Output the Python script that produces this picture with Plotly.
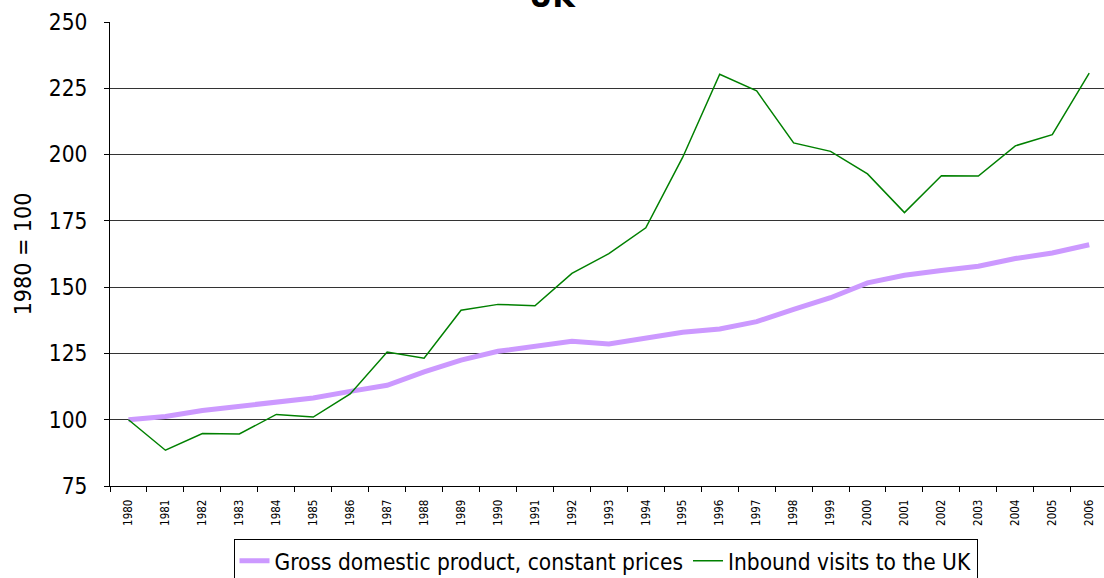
import plotly.graph_objects as go

years = [str(y) for y in range(1980, 2007)]

gdp = [100, 101.2, 103.5, 105.0, 106.4, 108.2, 110.7, 113.0, 118.0, 122.5,
       125.8, 127.5, 129.6, 128.6, 130.6, 133.0, 134.2, 137.0, 141.6, 146.0,
       151.6, 154.5, 156.3, 157.9, 160.8, 162.9, 166.0]

visits = [100, 88.5, 94.8, 94.6, 102.0, 101.0, 109.7, 125.5, 123.2, 141.3,
          143.5, 143.0, 155.2, 162.6, 172.4, 199.0, 230.3, 224.0, 204.4, 201.2,
          192.7, 178.1, 192.0, 191.9, 203.3, 207.5, 230.7]

y_ticks = [75, 100, 125, 150, 175, 200, 225, 250]

FONT = "DejaVu Sans Condensed, Liberation Sans, sans-serif"

fig = go.Figure()
fig.add_trace(go.Scatter(
    x=years, y=gdp, mode="lines",
    name="Gross domestic product, constant prices",
    line=dict(color="#CC99FF", width=5),
))
fig.add_trace(go.Scatter(
    x=years, y=visits, mode="lines",
    name="Inbound visits to the UK",
    line=dict(color="#008000", width=1.5),
))

fig.update_layout(
    width=1104, height=578,
    margin=dict(l=110, r=0, t=22, b=92, autoexpand=False),
    paper_bgcolor="white", plot_bgcolor="white",
    font=dict(family=FONT, color="black"),
    showlegend=True,
    legend=dict(
        orientation="h", x=0.4985, xanchor="center",
        yref="container", y=0.068, yanchor="top",
        bordercolor="black", borderwidth=1, bgcolor="white",
        font=dict(family=FONT, size=22.5, color="black"),
        itemwidth=30,
    ),
    annotations=[dict(
        text="<b>UK</b>", xref="paper", yref="paper", x=0.4447, y=1.056,
        xanchor="center", yanchor="middle", showarrow=False,
        font=dict(family=FONT, size=32, color="black"),
    )],
)

fig.update_xaxes(
    type="category", range=[-0.5, 26.4], automargin=False,
    showline=True, linecolor="black", linewidth=1,
    ticks="outside", tickson="boundaries", ticklen=5, tickcolor="black",
    tickangle=-90, ticklabelstandoff=8,
    tickfont=dict(family=FONT, size=11.5, color="black"),
    showgrid=False, zeroline=False,
)
fig.update_yaxes(
    range=[75, 250], tickvals=y_ticks, automargin=False,
    showline=True, linecolor="black", linewidth=1,
    ticks="outside", ticklen=5, tickcolor="black",
    ticklabelstandoff=12,
    tickfont=dict(family=FONT, size=22.5, color="black"),
    showgrid=True, gridcolor="#333333", gridwidth=1,
    zeroline=False,
    title=dict(text="1980 = 100", font=dict(family=FONT, size=23, color="black"), standoff=10),
)

fig.write_html("out.html")
